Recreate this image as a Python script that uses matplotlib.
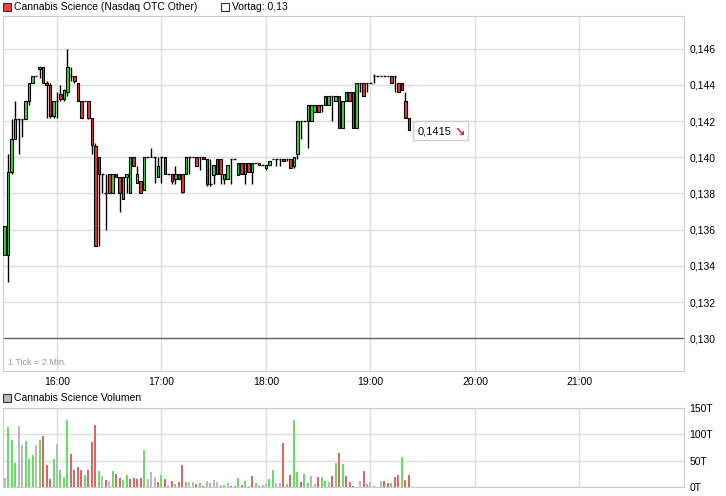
import matplotlib
matplotlib.use("Agg")
import matplotlib.pyplot as plt
from matplotlib.patches import Rectangle
import numpy as np

plt.rcParams['font.family'] = ['Liberation Sans', 'DejaVu Sans']

title = "Cannabis Science (Nasdaq OTC Other)"
prev_label = "Vortag: 0,13"
vol_title = "Cannabis Science Volumen"
tick_note = "1 Tick = 2 Min."
last_label = "0,1415"
prev_close = 0.130
start_minute = 15 * 60 + 30
interval = 2

opens = [0.1346, 0.1346, 0.1392, 0.1410, 0.1421, 0.1421, 0.1421, 0.1431, 0.1441, 0.1445,
         0.1449, 0.1450, 0.1441, 0.1440, 0.1423, 0.1431, 0.1435, 0.1432, 0.1436, 0.1445,
         0.1445, 0.1441, 0.1431, 0.1431, 0.1431, 0.1422, 0.1406, 0.1400, 0.1391, 0.1380,
         0.1391, 0.1380, 0.1391, 0.1389, 0.1377, 0.1389, 0.1380, 0.1400, 0.1386, 0.1387,
         0.1382, 0.1400, 0.1400, 0.1400, 0.1389, 0.1400, 0.1400, 0.1391, 0.1391, 0.1388,
         0.1391, 0.1391, 0.1391, 0.1400, 0.1400, 0.1400, 0.1400, 0.1400, 0.1399, 0.1385,
         0.1390, 0.1399, 0.1399, 0.1388, 0.1388, 0.1399, 0.1399, 0.1390, 0.1397, 0.1391,
         0.1397, 0.1392, 0.1397, 0.1396, 0.1396, 0.1394, 0.1396, 0.1399, 0.1399, 0.1399,
         0.1399, 0.1399, 0.1399, 0.1395, 0.1402, 0.1420, 0.1420, 0.1420, 0.1420, 0.1425,
         0.1429, 0.1429, 0.1429, 0.1429, 0.1434, 0.1431, 0.1434, 0.1416, 0.1431, 0.1436,
         0.1436, 0.1416, 0.1441, 0.1441, 0.1441, 0.1441, 0.1445, 0.1445, 0.1445, 0.1445,
         0.1445, 0.1445, 0.1445, 0.1441, 0.1441, 0.1431, 0.1422]
highs = [0.1362, 0.1402, 0.1421, 0.1431, 0.1421, 0.1421, 0.1431, 0.1441, 0.1445, 0.1445,
         0.1450, 0.1450, 0.1442, 0.1441, 0.1431, 0.1436, 0.1440, 0.1438, 0.1460, 0.1450,
         0.1445, 0.1441, 0.1431, 0.1431, 0.1431, 0.1422, 0.1408, 0.1400, 0.1391, 0.1391,
         0.1391, 0.1391, 0.1391, 0.1389, 0.1389, 0.1391, 0.1400, 0.1400, 0.1395, 0.1387,
         0.1400, 0.1400, 0.1405, 0.1400, 0.1400, 0.1400, 0.1400, 0.1391, 0.1391, 0.1395,
         0.1391, 0.1391, 0.1400, 0.1400, 0.1400, 0.1400, 0.1400, 0.1400, 0.1399, 0.1399,
         0.1396, 0.1399, 0.1399, 0.1391, 0.1396, 0.1399, 0.1399, 0.1397, 0.1397, 0.1397,
         0.1397, 0.1397, 0.1397, 0.1397, 0.1396, 0.1396, 0.1398, 0.1399, 0.1399, 0.1399,
         0.1399, 0.1399, 0.1399, 0.1400, 0.1420, 0.1420, 0.1420, 0.1429, 0.1429, 0.1429,
         0.1429, 0.1429, 0.1434, 0.1434, 0.1434, 0.1434, 0.1434, 0.1431, 0.1436, 0.1436,
         0.1436, 0.1441, 0.1441, 0.1441, 0.1441, 0.1441, 0.1446, 0.1445, 0.1445, 0.1445,
         0.1445, 0.1445, 0.1445, 0.1441, 0.1441, 0.1436, 0.1422]
lows = [0.1346, 0.1331, 0.1391, 0.1410, 0.1402, 0.1411, 0.1421, 0.1429, 0.1441, 0.1445,
        0.1444, 0.1441, 0.1422, 0.1422, 0.1422, 0.1422, 0.1431, 0.1431, 0.1434, 0.1442,
        0.1441, 0.1431, 0.1422, 0.1431, 0.1421, 0.1402, 0.1351, 0.1351, 0.1380, 0.1360,
        0.1380, 0.1380, 0.1389, 0.1370, 0.1377, 0.1380, 0.1380, 0.1395, 0.1386, 0.1380,
        0.1382, 0.1400, 0.1400, 0.1386, 0.1389, 0.1386, 0.1391, 0.1391, 0.1385, 0.1385,
        0.1388, 0.1380, 0.1391, 0.1391, 0.1400, 0.1395, 0.1393, 0.1399, 0.1384, 0.1384,
        0.1385, 0.1391, 0.1385, 0.1385, 0.1388, 0.1385, 0.1399, 0.1390, 0.1391, 0.1385,
        0.1392, 0.1385, 0.1397, 0.1396, 0.1396, 0.1393, 0.1396, 0.1399, 0.1395, 0.1395,
        0.1398, 0.1398, 0.1394, 0.1394, 0.1399, 0.1410, 0.1420, 0.1405, 0.1420, 0.1425,
        0.1425, 0.1425, 0.1429, 0.1429, 0.1420, 0.1431, 0.1416, 0.1416, 0.1431, 0.1431,
        0.1416, 0.1416, 0.1436, 0.1434, 0.1436, 0.1441, 0.1441, 0.1445, 0.1445, 0.1445,
        0.1445, 0.1441, 0.1436, 0.1436, 0.1437, 0.1422, 0.1415]
closes = [0.1362, 0.1392, 0.1410, 0.1421, 0.1421, 0.1421, 0.1431, 0.1441, 0.1445, 0.1445,
          0.1450, 0.1441, 0.1440, 0.1423, 0.1431, 0.1431, 0.1432, 0.1437, 0.1450, 0.1445,
          0.1442, 0.1431, 0.1422, 0.1431, 0.1422, 0.1407, 0.1351, 0.1391, 0.1391, 0.1380,
          0.1380, 0.1391, 0.1389, 0.1380, 0.1389, 0.1391, 0.1400, 0.1395, 0.1391, 0.1380,
          0.1400, 0.1400, 0.1400, 0.1400, 0.1395, 0.1400, 0.1391, 0.1391, 0.1387, 0.1391,
          0.1388, 0.1381, 0.1400, 0.1400, 0.1400, 0.1395, 0.1400, 0.1399, 0.1385, 0.1385,
          0.1396, 0.1391, 0.1391, 0.1391, 0.1396, 0.1399, 0.1399, 0.1397, 0.1391, 0.1397,
          0.1392, 0.1397, 0.1397, 0.1397, 0.1396, 0.1396, 0.1398, 0.1399, 0.1399, 0.1399,
          0.1398, 0.1399, 0.1394, 0.1400, 0.1420, 0.1420, 0.1420, 0.1429, 0.1429, 0.1429,
          0.1425, 0.1429, 0.1434, 0.1434, 0.1434, 0.1434, 0.1416, 0.1431, 0.1436, 0.1431,
          0.1416, 0.1441, 0.1441, 0.1434, 0.1441, 0.1441, 0.1445, 0.1445, 0.1445, 0.1445,
          0.1445, 0.1441, 0.1445, 0.1436, 0.1437, 0.1422, 0.1415]

volumes = [17.5, 113, 89, 46, 115, 79, 87, 53, 61, 79,
           89, 96, 42, 16, 53, 81, 32, 19, 128, 62,
           32, 38, 32, 23, 32, 85, 117, 31, 21, 14,
           12, 31, 25, 17.5, 14, 23, 16, 17.5, 16, 17.5,
           70, 16, 29, 19, 10, 23, 16, 4, 12, 6,
           10, 42, 10, 10, 10, 6, 8, 2.5, 12, 8,
           14, 10, 4, 4, 8, 2.5, 2.5, 17.5, 4, 12,
           2.5, 21, 8, 4, 4, 6, 16, 32, 8, 8,
           83, 6, 23, 128, 29, 10, 25, 8, 21, 6,
           19, 19, 12, 10, 21, 46, 64, 44, 21, 10,
           2.5, 0, 12, 31, 6, 10, 2.5, 0, 12, 12,
           8, 8, 19, 23, 57, 14, 23]
volume_dirs = ("ngggnngggn" "grrrgngggr" "rrrgrrrgnr" "ngrrggrrrr" "gnnnrgrnrg"
               "rrgnnrgrng" "nnngnrrgrg" "grgnnnggnn" "rgrggrggnn" "rggnrgrgrr"
               "rnnrgngnnr" "rgrrgrr")

hour_labels = ["16:00", "17:00", "18:00", "19:00", "20:00", "21:00"]
hour_minutes = [960, 1020, 1080, 1140, 1200, 1260]
price_ticks = [0.130, 0.132, 0.134, 0.136, 0.138, 0.140, 0.142, 0.144, 0.146]
price_labels = ["0,130", "0,132", "0,134", "0,136", "0,138", "0,140", "0,142", "0,144", "0,146"]
vol_ticks = [0, 50, 100, 150]
vol_labels = ["0T", "50T", "100T", "150T"]

W, H = 726, 496
fig = plt.figure(figsize=(W / 100, H / 100), dpi=100)
fig.patch.set_facecolor("white")


def axrect(l, t, r, b):
    return [l / W, 1 - b / H, (r - l) / W, (b - t) / H]


ax = fig.add_axes(axrect(3, 16, 684, 371))
axv = fig.add_axes(axrect(3, 408, 684, 487))

GREEN = "#33dd33"
RED = "#ee3333"
GRID = "#dddddd"
SPINE = "#cccccc"
FS = 7.5

n = len(closes)
times = start_minute + interval * np.arange(n)
o = np.array(opens); h = np.array(highs); l = np.array(lows); c = np.array(closes)

# --- price panel ---
ax.set_xlim(929, 1320)
ax.set_ylim(0.12819, 0.14781)
ax.set_yticks(price_ticks)
ax.set_yticklabels(price_labels)
ax.set_xticks(hour_minutes)
ax.set_xticklabels(hour_labels)
ax.yaxis.tick_right()
ax.tick_params(length=0, labelsize=FS, pad=4)
ax.grid(True, color=GRID, lw=1, zorder=0)
ax.set_axisbelow(True)
for s in ax.spines.values():
    s.set_color(SPINE)
ax.axhline(prev_close, color="#666666", lw=1, zorder=1)

ax.vlines(times, l, h, color="black", lw=1, zorder=3)
bw = 1.45
up = c > o
dn = c < o
flat = c == o
ax.bar(times[up], (c - o)[up], bottom=o[up], width=bw, color=GREEN,
       edgecolor="black", lw=0.8, zorder=4)
ax.bar(times[dn], (o - c)[dn], bottom=c[dn], width=bw, color=RED,
       edgecolor="black", lw=0.8, zorder=4)
ax.hlines(c[flat], times[flat] - bw / 2, times[flat] + bw / 2, color="black", lw=1, zorder=4)

ax.text(0.007, 0.012, tick_note, transform=ax.transAxes, fontsize=6.5, color="#999999",
        ha="left", va="bottom")

# last price box
t_last = times[-1]
bx0 = t_last + 2.2
ax.add_patch(Rectangle((bx0, closes[-1] - 0.00055), 32, 0.00105, facecolor="white",
                       edgecolor="#cccccc", lw=1, zorder=5))
ax.text(bx0 + 3, closes[-1] - 0.0001, last_label, fontsize=8, va="center", ha="left", zorder=6)
ax.text(bx0 + 24, closes[-1] - 0.0001, "\u2198", fontsize=9, color="#dd2222",
        fontweight="bold", va="center", ha="left", zorder=6, family="DejaVu Sans")

# --- volume panel ---
axv.set_xlim(929, 1320)
axv.set_ylim(0, 150)
axv.set_yticks(vol_ticks)
axv.set_yticklabels(vol_labels)
axv.set_xticks(hour_minutes)
axv.set_xticklabels([])
axv.yaxis.tick_right()
axv.tick_params(length=0, labelsize=FS, pad=4)
axv.grid(True, color=GRID, lw=1, zorder=0)
axv.set_axisbelow(True)
for s in axv.spines.values():
    s.set_color(SPINE)
cmap = {"g": "#66dd66", "r": "#dd6666", "n": "#bbbbbb"}
vcolors = [cmap[d] for d in volume_dirs]
axv.bar(times, volumes, width=1.15, color=vcolors, lw=0, zorder=3)

# --- header texts ---
fig.patches.append(Rectangle((3 / W, 1 - 11 / H), 8 / W, 8 / H, transform=fig.transFigure,
                             facecolor="#ee4444", edgecolor="#333333", lw=0.8))
fig.text(14 / W, 1 - 7 / H, title, fontsize=FS, va="center", ha="left")
fig.patches.append(Rectangle((221 / W, 1 - 11 / H), 8 / W, 8 / H, transform=fig.transFigure,
                             facecolor="white", edgecolor="#333333", lw=0.8))
fig.text(232 / W, 1 - 7 / H, prev_label, fontsize=FS, va="center", ha="left")
fig.patches.append(Rectangle((3 / W, 1 - 402 / H), 8 / W, 8 / H, transform=fig.transFigure,
                             facecolor="#bbbbbb", edgecolor="#333333", lw=0.8))
fig.text(14 / W, 1 - 398 / H, vol_title, fontsize=FS, va="center", ha="left")

fig.savefig("out.png", dpi=100)
